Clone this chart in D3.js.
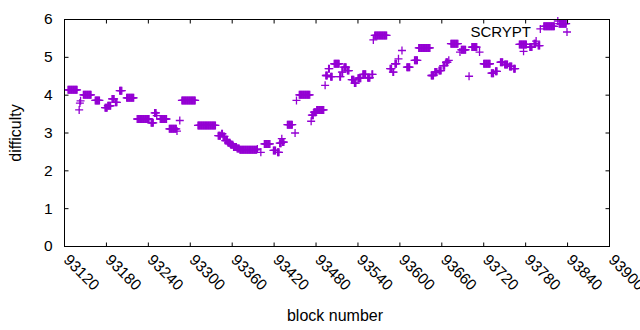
<!DOCTYPE html>
<html>
<head>
<meta charset="utf-8">
<script src="https://cdn.jsdelivr.net/npm/d3@7"></script>
<style>
  body { margin: 0; background: #fff; }
  svg { display: block; font-family: "Liberation Sans", Arial, sans-serif; }
  .axis text { font-size: 15.5px; fill: #000; }
  .axis line { stroke: #000; }
</style>
</head>
<body>
<div class="chart"></div>
<script>
// Runs of blocks sharing one difficulty value (start == end for a single block)
const runStart = [93125, 93141, 93142, 93143, 93147, 93164, 93178, 93182, 93188, 93193,
  93199, 93209, 93224, 93244, 93249, 93252, 93257, 93270, 93281, 93285,
  93288, 93311, 93340, 93345, 93347, 93350, 93354, 93358, 93362, 93367,
  93371, 93396, 93401, 93406, 93419, 93425, 93428, 93431, 93432, 93439,
  93450, 93452, 93456, 93473, 93474, 93477, 93481, 93493, 93494, 93498,
  93501, 93506, 93514, 93517, 93520, 93525, 93531, 93535, 93540, 93547,
  93554, 93560, 93562, 93564, 93586, 93590, 93593, 93598, 93603, 93610,
  93621, 93627, 93645, 93650, 93656, 93662, 93666, 93670, 93673, 93686,
  93688, 93699, 93703, 93714, 93720, 93731, 93737, 93744, 93750, 93757,
  93763, 93771, 93777, 93786, 93792, 93795, 93798, 93801, 93806, 93826,
  93828];
const runEnd = [93138, 93141, 93142, 93143, 93158, 93170, 93181, 93186, 93191, 93195,
  93202, 93219, 93241, 93247, 93251, 93252, 93266, 93280, 93281, 93285,
  93307, 93336, 93343, 93346, 93349, 93353, 93357, 93361, 93366, 93370,
  93395, 93396, 93401, 93414, 93422, 93427, 93430, 93431, 93434, 93446,
  93450, 93452, 93471, 93473, 93476, 93480, 93491, 93493, 93496, 93499,
  93503, 93513, 93515, 93518, 93523, 93527, 93534, 93537, 93544, 93551,
  93557, 93561, 93562, 93581, 93588, 93591, 93595, 93598, 93603, 93614,
  93625, 93643, 93648, 93653, 93659, 93664, 93668, 93670, 93683, 93686,
  93694, 93699, 93710, 93714, 93729, 93734, 93739, 93747, 93754, 93760,
  93765, 93781, 93777, 93789, 93794, 93795, 93800, 93801, 93821, 93826,
  93838];
const runDiff = [4.14, 3.61, 3.79, 3.85, 4.01, 3.86, 3.67, 3.72, 3.90, 3.81,
  4.12, 3.93, 3.37, 3.27, 3.53, 3.46, 3.37, 3.11, 3.05, 3.33,
  3.86, 3.20, 2.93, 2.98, 2.91, 2.80, 2.74, 2.69, 2.63, 2.59,
  2.56, 2.58, 2.49, 2.71, 2.54, 2.49, 2.73, 2.85, 2.76, 3.22,
  3.00, 3.86, 4.01, 3.31, 3.47, 3.55, 3.61, 4.26, 4.52, 4.70,
  4.49, 4.83, 4.49, 4.61, 4.74, 4.65, 4.41, 4.32, 4.45, 4.55,
  4.46, 4.55, 5.46, 5.58, 4.70, 4.61, 4.83, 4.96, 5.18, 4.74,
  4.92, 5.25, 4.52, 4.61, 4.65, 4.78, 4.87, 4.92, 5.36, 5.14,
  5.20, 4.50, 5.27, 5.14, 4.83, 4.58, 4.63, 4.87, 4.81, 4.76,
  4.70, 5.34, 5.16, 5.27, 5.36, 5.43, 5.31, 5.75, 5.82, 5.96,
  5.89];

const xTicks = [93120, 93180, 93240, 93300, 93360, 93420, 93480, 93540, 93600, 93660, 93720, 93780, 93840, 93900];
const yTicks = [0, 1, 2, 3, 4, 5, 6];
const seriesName = "SCRYPT";

// one point per block
const points = [];
runStart.forEach((s, i) => {
  for (let b = s; b <= runEnd[i]; b++) points.push({ block: b, diff: runDiff[i] });
});

const W = 640, H = 330;
const margin = { top: 19.5, right: 30.5, bottom: 83.5, left: 64.5 };

const xScale = d3.scaleLinear().domain([93120, 93900]).range([margin.left, W - margin.right]);
const yScale = d3.scaleLinear().domain([0, 6]).range([H - margin.bottom, margin.top]);

const svg = d3.select(".chart").append("svg").attr("width", W).attr("height", H);

const purple = "#9400d3";
const plus = "M-4,0H4M0,-4V4";

// points
svg.append("g")
  .selectAll("path")
  .data(points)
  .enter()
  .append("path")
  .attr("d", plus)
  .attr("transform", d => `translate(${xScale(d.block)},${yScale(d.diff)})`)
  .attr("stroke", purple)
  .attr("stroke-width", 1.3)
  .attr("fill", "none");

// axes
const xAxis = d3.axisBottom(xScale).tickValues(xTicks).tickSize(-4).tickFormat(d3.format("d")).offset(0);
const xAxisTop = d3.axisTop(xScale).tickValues(xTicks).tickSize(-4).tickFormat("").offset(0);
const yAxis = d3.axisLeft(yScale).tickValues(yTicks).tickSize(-4).tickPadding(12).tickFormat(d3.format("d")).offset(0);
const yAxisRight = d3.axisRight(yScale).tickValues(yTicks).tickSize(-4).tickFormat("").offset(0);

const gx = svg.append("g").attr("class", "axis")
  .attr("transform", `translate(0,${H - margin.bottom})`).call(xAxis);
gx.selectAll("text")
  .attr("x", 0).attr("y", 0).attr("dy", "0.35em")
  .attr("text-anchor", "start")
  .attr("transform", "translate(2,10.5) rotate(45)");

svg.append("g").attr("class", "axis").attr("transform", `translate(0,${margin.top})`).call(xAxisTop);
svg.append("g").attr("class", "axis").attr("transform", `translate(${margin.left},0)`).call(yAxis);
svg.append("g").attr("class", "axis").attr("transform", `translate(${W - margin.right},0)`).call(yAxisRight);
svg.selectAll(".axis .domain").remove();

// frame
svg.append("rect")
  .attr("x", margin.left).attr("y", margin.top)
  .attr("width", W - margin.right - margin.left)
  .attr("height", H - margin.bottom - margin.top)
  .attr("fill", "none").attr("stroke", "#000");

// axis titles
svg.append("text")
  .attr("transform", `translate(21,${(margin.top + H - margin.bottom) / 2}) rotate(-90)`)
  .attr("text-anchor", "middle")
  .style("font-size", "16px")
  .text("difficulty");

svg.append("text")
  .attr("x", 335).attr("y", 321)
  .attr("text-anchor", "middle")
  .style("font-size", "16px")
  .text("block number");

// key
svg.append("text")
  .attr("x", 531).attr("y", 36.5)
  .attr("text-anchor", "end")
  .style("font-size", "15px")
  .text(seriesName);
svg.append("path")
  .attr("d", plus)
  .attr("transform", "translate(567,32)")
  .attr("stroke", purple)
  .attr("stroke-width", 1.3)
  .attr("fill", "none");
</script>
</body>
</html>
